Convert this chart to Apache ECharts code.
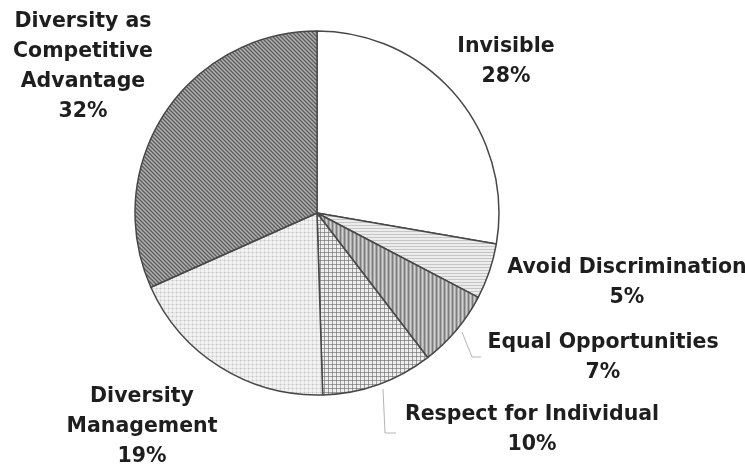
<!DOCTYPE html>
<html>
<head>
<meta charset="utf-8">
<script src="https://cdn.jsdelivr.net/npm/echarts@6/dist/echarts.min.js"></script>
<style>
  html, body { margin: 0; padding: 0; background: #ffffff; }
  #chart { width: 745px; height: 471px; }
</style>
</head>
<body>
<div id="chart"></div>
<script>
// Diversity approaches, share of respondents (%)
const categories = [
  'Invisible',
  'Avoid Discrimination',
  'Equal Opportunities',
  'Respect for Individual',
  'Diversity Management',
  'Diversity as Competitive Advantage'
];
// How each category name is broken over lines in its label
const labelText = [
  ['Invisible'],
  ['Avoid Discrimination'],
  ['Equal Opportunities'],
  ['Respect for Individual'],
  ['Diversity', 'Management'],
  ['Diversity as', 'Competitive', 'Advantage']
];
const shares = [28, 5, 7, 10, 19, 32];

// Build a repeating monochrome fill from a per-pixel colour function
function pixelTile(size, colorAt) {
  const c = document.createElement('canvas');
  c.width = size; c.height = size;
  const ctx = c.getContext('2d');
  for (let y = 0; y < size; y++) {
    for (let x = 0; x < size; x++) {
      ctx.fillStyle = colorAt(x, y);
      ctx.fillRect(x, y, 1, 1);
    }
  }
  return { image: c, repeat: 'repeat' };
}

const fills = [
  '#ffffff',
  // horizontal hairlines
  pixelTile(3, (x, y) => (y === 0 ? '#c6c6c6' : '#ececec')),
  // vertical stripes
  pixelTile(4, (x, y) => ['#7c7c7c', '#a9a9a9', '#d0d0d0', '#adadad'][x]),
  // small check grid
  pixelTile(4, (x, y) => {
    if (x === 0 && y === 0) return '#808080';
    if (x === 0 || y === 0) return '#9c9c9c';
    return '#eeeeee';
  }),
  // fine dots
  pixelTile(4, (x, y) => {
    if (x === 0 && y === 0) return '#c2c2c2';
    if (x === 0 || y === 0) return '#e0e0e0';
    return '#f2f2f2';
  }),
  // dark diagonal stripes
  pixelTile(4, (x, y) => {
    const d = ((x - y) % 4 + 4) % 4;
    return ['#5c5c5c', '#8a8a8a', '#b0b0b0', '#8a8a8a'][d];
  })
];

// Label block placement (centre x, top y) and leader paths
const labelAnchor = [[506, 32], [627, 253], [603, 328], [532, 400], [142, 382], [83, 7]];
const leaderPaths = {
  2: [[462, 332], [472, 357], [481, 357]],
  3: [[383, 389], [385, 433], [396, 433]]
};

const seriesData = shares.map((v, i) => ({
  name: categories[i],
  value: v,
  itemStyle: { color: fills[i] },
  labelLine: { show: !!leaderPaths[i] }
}));

const chart = echarts.init(document.getElementById('chart'), null, { renderer: 'canvas' });
chart.setOption({
  backgroundColor: '#ffffff',
  animation: false,
  series: [{
    type: 'pie',
    center: [317, 213],
    radius: [0, 182],
    startAngle: 90,
    clockwise: true,
    avoidLabelOverlap: false,
    data: seriesData,
    itemStyle: { borderColor: '#474747', borderWidth: 1.5 },
    emphasis: { disabled: true },
    label: {
      show: true,
      position: 'outside',
      fontFamily: 'DejaVu Sans',
      fontWeight: 'bold',
      fontSize: 20.5,
      lineHeight: 30,
      color: '#1e1e1e',
      align: 'center',
      formatter: p => labelText[p.dataIndex].join('\n') + '\n' + p.value + '%'
    },
    labelLine: {
      show: true,
      lineStyle: { color: '#b5b5b5', width: 1 }
    },
    labelLayout: p => {
      const a = labelAnchor[p.dataIndex];
      const out = { x: a[0], y: a[1], align: 'center', verticalAlign: 'top' };
      if (leaderPaths[p.dataIndex]) out.labelLinePoints = leaderPaths[p.dataIndex];
      return out;
    }
  }]
});
</script>
</body>
</html>
